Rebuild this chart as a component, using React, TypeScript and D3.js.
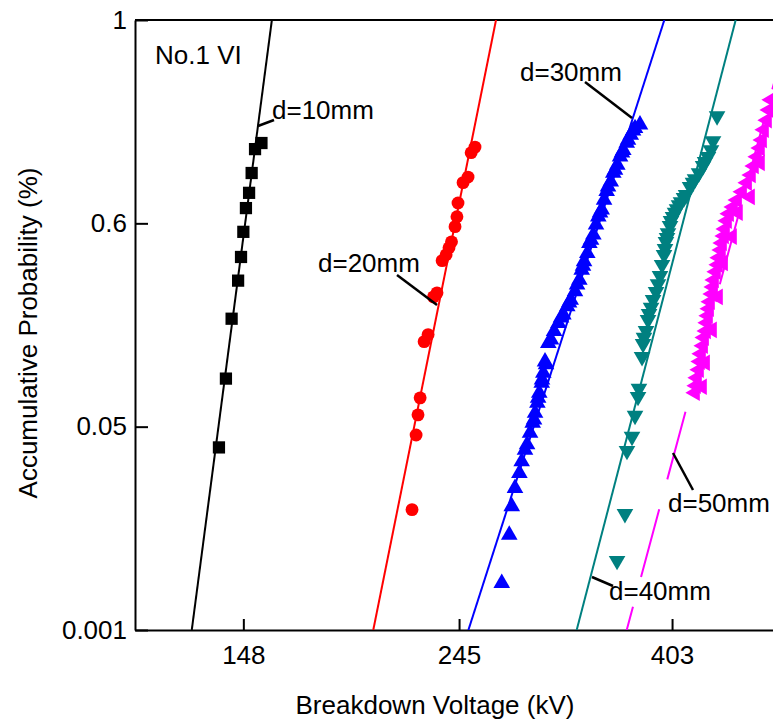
import * as d3 from "d3";
import { useEffect, useRef } from "react";

const W = 773;
const H = 721;

// axis ticks
const xTicks = [148, 245, 403];
const yTicks = [0.001, 0.05, 0.6, 1];
const yTickLabels = ["0.001", "0.05", "0.6", "1"];

// d=10mm (kV, accumulative probability)
const v10 = [154.4, 152.1, 150.9, 150.0, 148.9, 148.0, 147.2, 146.2, 144.0, 142.1, 139.8];
const p10 = [0.758, 0.746, 0.699, 0.66, 0.63, 0.577, 0.509, 0.445, 0.342, 0.18, 0.045];

// d=20mm
const v20 = [254.3, 252.0, 250.2, 247.3, 244.4, 243.8, 242.7, 240.7, 239.3, 237.7, 235.5, 232.7, 230.8, 227.9, 225.8, 223.7, 222.6, 221.6, 219.5];
const p20 = [0.75, 0.739, 0.691, 0.68, 0.64, 0.613, 0.591, 0.55, 0.534, 0.515, 0.499, 0.412, 0.401, 0.299, 0.28, 0.128, 0.082, 0.048, 0.03];

// d=30mm
const v30 = [270.7, 275.5, 277.1, 279.2, 282.1, 283.6, 285.8, 289.2, 291.0, 292.6, 294.2, 295.5, 297.2, 298.3, 299.5, 301.8, 305.9, 309.0, 312.6, 315.5, 318.0, 321.2, 324.5, 326.3, 328.1, 330.6, 332.2, 335.3, 337.4, 339.2, 341.9, 343.8, 345.9, 349.2, 351.3, 354.6, 356.9, 359.6, 362.5, 365.9, 369.6, 373.9,
  287.2, 291.9, 294.7, 297.4, 300.2, 303.7, 310.9, 316.8, 322.8, 327.3, 333.5, 340.6, 347.0, 352.7, 358.5, 363.6, 367.9];
const p30 = [0.0123, 0.0239, 0.0308, 0.0352, 0.0388, 0.0416, 0.0444, 0.0485, 0.06, 0.087, 0.114, 0.141, 0.168, 0.195, 0.226, 0.276, 0.308, 0.33, 0.353, 0.375, 0.393, 0.416, 0.447, 0.474, 0.497, 0.519, 0.546, 0.569, 0.596, 0.613, 0.627, 0.646, 0.663, 0.682, 0.699, 0.715, 0.731, 0.744, 0.758, 0.774, 0.787, 0.794,
  0.0457, 0.069, 0.128, 0.177, 0.218, 0.285, 0.345, 0.385, 0.434, 0.485, 0.555, 0.621, 0.672, 0.705, 0.739, 0.764, 0.782];

// d=40mm
const v40 = [447.7, 443.5, 441.4, 438.3, 435.3, 433.3, 429.2, 425.2, 423.2, 420.3, 416.4, 414.4, 411.5, 409.6, 407.7, 405.8, 403.9, 402.0, 401.1, 399.2, 398.3, 397.3, 396.4, 395.5, 393.7, 391.8, 390.0, 388.2, 385.5, 383.7, 381.9, 381.0, 379.2, 377.4, 376.6, 375.7, 373.0, 372.2, 369.6, 367.0, 362.7, 361.0, 354.4];
const p40 = [0.811, 0.762, 0.744, 0.731, 0.721, 0.713, 0.699, 0.687, 0.68, 0.672, 0.656, 0.65, 0.642, 0.636, 0.628, 0.621, 0.613, 0.605, 0.593, 0.574, 0.561, 0.55, 0.531, 0.515, 0.488, 0.458, 0.436, 0.415, 0.393, 0.372, 0.355, 0.339, 0.309, 0.291, 0.274, 0.239, 0.153, 0.131, 0.08, 0.0476, 0.0442, 0.029, 0.0177];

// d=50mm
const v50 = [507.8, 505.5, 503.1, 499.6, 497.3, 494.9, 491.5, 488.0, 484.6, 480.2, 474.6, 469.1, 464.7, 460.4, 458.2, 456.1, 455.0, 452.9, 451.8, 449.7, 448.7, 446.6, 444.5, 443.5, 442.4, 440.4, 439.4, 438.3, 437.3, 436.3, 434.3, 433.3, 431.2, 430.2, 429.2, 427.2, 426.2, 425.2,
  494.9, 483.5, 470.1, 463.6, 454.0, 448.7, 442.4, 435.3, 432.2];
const p50 = [0.843, 0.823, 0.803, 0.784, 0.764, 0.748, 0.731, 0.713, 0.695, 0.68, 0.662, 0.646, 0.632, 0.619, 0.605, 0.585, 0.566, 0.547, 0.528, 0.507, 0.488, 0.469, 0.447, 0.428, 0.409, 0.388, 0.369, 0.35, 0.331, 0.309, 0.291, 0.269, 0.247, 0.226, 0.204, 0.182, 0.161, 0.142,
  0.719, 0.652, 0.621, 0.564, 0.493, 0.401, 0.312, 0.223, 0.158];

// fitted lines: voltage at probability 0.001 and at 1
const fitLow = [131.2, 200.5, 250.4, 322.5, 362.5];
const fitHigh = [158.2, 267.1, 395.8, 467.6, 532.1];

const font = "'Liberation Sans', Arial, sans-serif";

export default function App() {
  const ref = useRef<SVGSVGElement>(null);

  useEffect(() => {
    const svg = d3.select(ref.current);
    svg.selectAll("*").remove();

    const left = 135, right = 773, top = 20, bottom = 630;

    const x = d3.scaleLog().domain([114.9, 510.2]).range([left, right]);
    const y = d3.scaleLinear()
      .domain(yTicks)
      .range(yTicks.map((_, i) => bottom - (i * (bottom - top)) / (yTicks.length - 1)));

    svg.append("defs").append("clipPath").attr("id", "plotclip")
      .append("rect").attr("x", left).attr("y", top).attr("width", right - left).attr("height", bottom - top);

    // X axis
    const gx = svg.append("g")
      .attr("transform", `translate(0, ${bottom})`)
      .call(d3.axisBottom(x).tickValues(xTicks).tickFormat(d3.format("d")).tickSizeInner(-11).tickSizeOuter(0).tickPadding(16));
    // Y axis
    const gy = svg.append("g")
      .attr("transform", `translate(${left}, 0)`)
      .call(d3.axisLeft(y).tickValues(yTicks).tickFormat((_, i) => yTickLabels[i]).tickSizeInner(-13).tickSizeOuter(0).tickPadding(8));

    [gx, gy].forEach(g => {
      g.selectAll("path, line").attr("stroke", "#000").attr("stroke-width", 2);
      g.selectAll("text").attr("font-size", 26).attr("font-family", font).attr("fill", "#000");
    });

    // top frame line
    svg.append("line")
      .attr("x1", left).attr("x2", right).attr("y1", top).attr("y2", top)
      .attr("stroke", "#000").attr("stroke-width", 2);

    const series = [
      { v: v10, p: p10, color: "#000000", type: d3.symbolSquare, size: 150, rot: 0, dash: null },
      { v: v20, p: p20, color: "#ff0000", type: d3.symbolCircle, size: 130, rot: 0, dash: null },
      { v: v30, p: p30, color: "#0000ff", type: d3.symbolTriangle, size: 120, rot: 0, dash: null },
      { v: v40, p: p40, color: "#008080", type: d3.symbolTriangle, size: 120, rot: 180, dash: null },
      { v: v50, p: p50, color: "#ff00ff", type: d3.symbolTriangle, size: 120, rot: -90, dash: "70 31" },
    ];

    const plot = svg.append("g");
    const line = d3.line<[number, number]>().x(d => x(d[0])).y(d => y(d[1]));

    series.forEach((s, i) => {
      plot.append("g")
        .selectAll("path")
        .data(s.v.map((v, j) => [v, s.p[j]] as [number, number]))
        .join("path")
        .attr("d", d3.symbol().type(s.type).size(s.size)())
        .attr("transform", d => `translate(${x(d[0])},${y(d[1])}) rotate(${s.rot})`)
        .attr("fill", s.color);

      const fit = plot.append("path")
        .attr("clip-path", "url(#plotclip)")
        .attr("d", line([[fitLow[i], 0.001], [fitHigh[i], 1]]))
        .attr("fill", "none")
        .attr("stroke", s.color)
        .attr("stroke-width", 2);
      if (s.dash) fit.attr("stroke-dasharray", s.dash).attr("stroke-dashoffset", 46);
    });

    // annotations
    const notes = [
      { text: "d=10mm", tx: 272, ty: 119, l: [258, 126, 274, 120] },
      { text: "d=20mm", tx: 318, ty: 272, l: [397, 275, 437, 305] },
      { text: "d=30mm", tx: 520, ty: 81, l: [585, 82, 632, 118] },
      { text: "d=40mm", tx: 609, ty: 600, l: [592, 577, 613, 586] },
      { text: "d=50mm", tx: 668, ty: 512, l: [673, 453, 693, 490] },
    ];
    const ann = svg.append("g");
    notes.forEach(n => {
      ann.append("line")
        .attr("x1", n.l[0]).attr("y1", n.l[1]).attr("x2", n.l[2]).attr("y2", n.l[3])
        .attr("stroke", "#000").attr("stroke-width", 2.5);
      ann.append("text")
        .attr("x", n.tx).attr("y", n.ty)
        .attr("font-size", 26).attr("font-family", font)
        .text(n.text);
    });

    svg.append("text")
      .attr("x", 155).attr("y", 64)
      .attr("font-size", 26).attr("font-family", font)
      .text("No.1 VI");

    svg.append("text")
      .attr("x", 435).attr("y", 714)
      .attr("text-anchor", "middle")
      .attr("font-size", 26).attr("font-family", font)
      .text("Breakdown Voltage (kV)");

    svg.append("text")
      .attr("transform", `translate(37, 333) rotate(-90)`)
      .attr("text-anchor", "middle")
      .attr("font-size", 26).attr("font-family", font)
      .text("Accumulative Probability (%)");
  }, []);

  return (
    <svg ref={ref} width={W} height={H}
      style={{ position: "absolute", left: 0, top: 0, background: "#fff" }} />
  );
}
